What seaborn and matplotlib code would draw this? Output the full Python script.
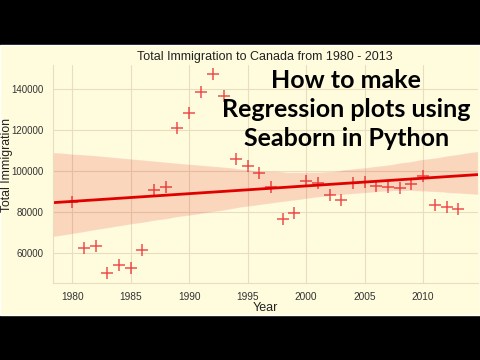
import numpy as np
import pandas as pd
import seaborn as sns
import matplotlib.pyplot as plt
from matplotlib.patches import Rectangle

years = list(range(1980, 2014))
total = [84900, 62350, 63300, 50100, 53900, 52400, 61200, 90800, 92300, 121000,
         128600, 138900, 147700, 136600, 105900, 102500, 99200, 92300, 76300, 79200,
         94900, 94300, 88100, 85600, 94300, 94800, 92600, 92300, 91800, 93500,
         97500, 83200, 82300, 81500]

df = pd.DataFrame({"year": years, "total": total})

cream = "#FFFCDD"
grid = "#E9DDBE"
sns.set_style("whitegrid", {"axes.facecolor": cream, "grid.color": grid,
                            "axes.edgecolor": grid})
plt.rcParams["font.family"] = ["Liberation Sans Narrow", "Liberation Sans", "DejaVu Sans"]

fig = plt.figure(figsize=(4.8, 3.6), dpi=100, facecolor="black")
fig.patches.append(Rectangle((0, 0.125), 1, 0.75, transform=fig.transFigure,
                             facecolor=cream, zorder=-10))
ax = fig.add_axes([0.110, 0.214, 0.885, 0.605])

sns.regplot(x="year", y="total", data=df, ax=ax, color="#E8262B", marker="+",
            truncate=False, seed=3,
            scatter_kws={"s": 75, "linewidths": 1.1},
            line_kws={"linewidth": 2, "color": "#E00000"})

ax.set_xlim(1978.35, 2014.65)
ax.set_ylim(45150, 151850)
ax.set_xticks([1980, 1985, 1990, 1995, 2000, 2005, 2010])
ax.set_yticks([60000, 80000, 100000, 120000, 140000])
ax.tick_params(axis="x", labelsize=7.3, colors="#333333", pad=3)
ax.tick_params(axis="y", labelsize=7, colors="#333333", pad=3)
ax.set_title("Total Immigration to Canada from 1980 - 2013", fontsize=9, color="#222222", pad=4)
ax.set_xlabel("Year", fontsize=9, color="#222222", labelpad=0)
ax.set_ylabel("Total Immigration", fontsize=8.8, color="#222222")
ax.yaxis.set_label_coords(-0.094, 0.54)
for s in ["top", "right"]:
    ax.spines[s].set_visible(False)

overlay = ["How to make", "Regression plots using", "Seaborn in Python"]
for i, line in enumerate(overlay):
    fig.text(0.721, 0.756 - i * 0.081, line, ha="center", va="baseline",
             fontsize=18, fontweight="bold", family=["Lato", "DejaVu Sans"], color="black")

fig.savefig("out.png", dpi=100, facecolor="black")
